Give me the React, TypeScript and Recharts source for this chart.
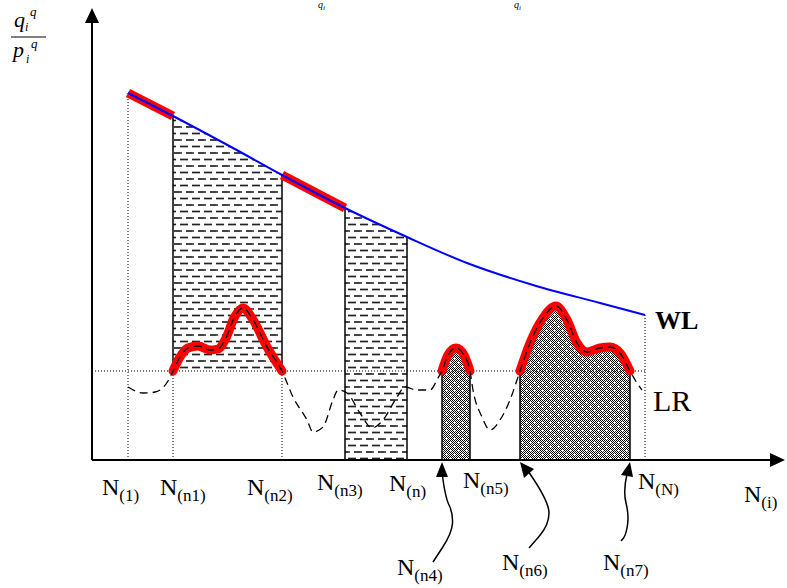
import React from 'react';
import { ComposedChart, XAxis, YAxis, Line, Area, ReferenceLine, ReferenceDot } from 'recharts';

// ---------- data (x = N(i) position, y = q/p value) ----------
const tickValues = [36, 81, 190, 253, 315, 378, 553];
const tickSubs = ['(1)', '(n1)', '(n2)', '(n3)', '(n)', '(n5)', '(N)'];
const arrowValues = [350, 428, 538];
const arrowSubs = ['(n4)', '(n6)', '(n7)'];

const wlX = [36, 81, 141, 190, 253, 315, 375, 441, 508, 553];
const wlY = [367, 344, 312, 285, 252, 223, 197, 175, 157, 145];
const lrLevel = 89;

const curveX = [36, 51, 63, 76, 81, 88, 96, 106, 118, 126, 134, 142, 151, 160, 175, 190, 201, 215, 221, 231, 241, 246, 255, 268, 280, 291, 305, 313, 325, 338, 346, 350, 356, 364, 372, 378, 381, 390, 398, 408, 418, 428, 438, 451, 464, 475, 485, 495, 508, 518, 528, 538, 545, 550];
const curveY = [73, 67, 68, 79, 89, 103, 112, 114, 110, 111, 122, 142, 152, 142, 113, 89, 63, 40, 28, 33, 60, 70, 67, 47, 32, 40, 63, 73, 70, 70, 82, 89, 105, 112, 105, 89, 70, 43, 30, 40, 60, 89, 117, 142, 154, 140, 117, 108, 112, 113, 107, 89, 77, 70];

const redWlRanges = [[36, 81], [190, 253]];
const redCurveRanges = [[81, 190], [350, 378], [428, 538]];
const hatchLrRange = [81, 190];
const hatchFullRange = [253, 315];
const greyRanges = [[350, 378], [428, 538]];
const topNoteX = [226, 422];

// ---------- layout (styles only) ----------
const W = 787;
const H = 588;
const tickDx = [-26, -13, -35, -28, -18, -7, -7];
const tickBase = [35, 35, 35, 30, 31, 28, 29];
const arrowDx = [-45, -18, -27];
const arrowBase = [115, 110, 110];
const serif = "'Liberation Serif', 'Times New Roman', serif";

const wlData = wlX.map((x, i) => ({ x, y: wlY[i] }));
const wlAt = (x: number) => wlY[wlX.indexOf(x)];
const curveAt = (x: number) => curveY[curveX.indexOf(x)];
const inRange = (x: number, r: number[]) => x >= r[0] && x <= r[1];
const curveData = curveX.map((x, i) => ({
  x,
  y: curveY[i],
  red: redCurveRanges.some((r) => inRange(x, r)) ? curveY[i] : null,
}));

const NLabel = ({ x, y, sub }: { x: number; y: number; sub: string }) => (
  <text x={x} y={y} fontFamily={serif} fill="#000">
    <tspan fontSize={24}>N</tspan>
    <tspan fontSize={17} dy={6}>{sub}</tspan>
  </text>
);

const NTick = (props: any) => {
  const { x, y, payload } = props;
  const i = tickValues.indexOf(payload.value);
  if (i < 0) return null;
  return <NLabel x={x + tickDx[i]} y={y + tickBase[i]} sub={tickSubs[i]} />;
};

const smooth = (pts: number[][]) => {
  let d = `M${pts[0][0]},${pts[0][1]}`;
  for (let i = 1; i < pts.length - 1; i++) {
    const mx = (pts[i][0] + pts[i + 1][0]) / 2;
    const my = (pts[i][1] + pts[i + 1][1]) / 2;
    d += ` Q${pts[i][0]},${pts[i][1]} ${mx},${my}`;
  }
  const l = pts[pts.length - 1];
  d += ` L${l[0]},${l[1]}`;
  return d;
};

// arrow shaft shapes relative to arrow tip
const arrowShafts = [
  [[0, 12], [3, 37], [11, 53], [10, 73], [-9, 102]],
  [[8, 11], [29, 41], [29, 65], [9, 88]],
  [[-3, 14], [-7, 31], [-1, 55], [-4, 75], [-9, 81]],
];
const arrowHeads = [
  [[0, 2], [-6, 17], [6, 17]],
  [[0, 2], [4, 18], [14, 9]],
  [[0, 2], [-9, 15], [3, 17]],
];

const makeArrowShape = (i: number) => (p: any) => {
  const { cx, cy } = p;
  const shaft = arrowShafts[i].map(([a, b]) => [cx + a, cy + b]);
  const head = arrowHeads[i].map(([a, b]) => `${cx + a},${cy + b}`).join(' ');
  return (
    <g>
      <path d={smooth(shaft)} fill="none" stroke="#000" strokeWidth={1.5} />
      <polygon points={head} fill="#000" />
      <NLabel x={cx + arrowDx[i]} y={cy + arrowBase[i]} sub={arrowSubs[i]} />
    </g>
  );
};

const YArrowShape = (p: any) => {
  const { cx, cy } = p;
  return (
    <g>
      <polygon points={`${cx},${cy - 2} ${cx - 7},${cy + 13} ${cx + 7},${cy + 13}`} fill="#000" />
      <g fontFamily={serif} fontStyle="italic" fill="#000">
        <text x={cx - 78} y={cy + 17} fontSize={22}>q</text>
        <text x={cx - 67} y={cy + 21} fontSize={12}>i</text>
        <text x={cx - 62} y={cy + 6} fontSize={13}>q</text>
        <line x1={cx - 81} x2={cx - 46} y1={cy + 27} y2={cy + 27} stroke="#000" strokeWidth={1} />
        <text x={cx - 79} y={cy + 47} fontSize={22}>p</text>
        <text x={cx - 66} y={cy + 53} fontSize={12}>i</text>
        <text x={cx - 61} y={cy + 38} fontSize={13}>q</text>
      </g>
    </g>
  );
};

const XArrowShape = (p: any) => {
  const { cx, cy } = p;
  return (
    <g>
      <polygon points={`${cx + 3},${cy} ${cx - 12},${cy - 7} ${cx - 12},${cy + 7}`} fill="#000" />
      <NLabel x={cx - 38} y={cy + 42} sub="(i)" />
    </g>
  );
};

const WlLabel = (p: any) => (
  <text x={p.cx + 10} y={p.cy + 14} fontFamily={serif} fontWeight="bold" fontSize={26} fill="#000">WL</text>
);
const LrLabel = (p: any) => (
  <text x={p.cx + 8} y={p.cy + 40} fontFamily={serif} fontSize={30} fill="#000">LR</text>
);
const TopQ = (p: any) => (
  <text x={p.cx} y={p.cy - 2} fontFamily={serif} fontStyle="italic" fontSize={10} fill="#000">
    q<tspan fontSize={7} dy={2}>i</tspan>
  </text>
);

export default function App() {
  const hatchA = wlData.filter((d) => inRange(d.x, hatchLrRange)).map((d) => ({ x: d.x, r: [lrLevel, d.y] }));
  const hatchB = wlData.filter((d) => inRange(d.x, hatchFullRange)).map((d) => ({ x: d.x, r: [0, d.y] }));
  return (
    <div style={{ position: 'absolute', left: 0, top: 0, width: W, height: H, background: '#fff' }}>
      <ComposedChart width={W} height={H} margin={{ top: 10, right: 5, left: 32, bottom: 98 }}>
        <defs>
          <pattern id="hatch" patternUnits="userSpaceOnUse" width="12" height="13">
            <line x1="0" x2="8" y1="3.5" y2="3.5" stroke="#222" strokeWidth="1.7" />
            <line x1="6" x2="12" y1="10" y2="10" stroke="#222" strokeWidth="1.7" />
            <line x1="0" x2="2" y1="10" y2="10" stroke="#222" strokeWidth="1.7" />
          </pattern>
          <pattern id="chk" patternUnits="userSpaceOnUse" width="2" height="2">
            <rect x="0" y="0" width="2" height="2" fill="#fff" />
            <rect x="0" y="0" width="1" height="1" fill="#000" />
            <rect x="1" y="1" width="1" height="1" fill="#000" />
          </pattern>
          <pattern id="grey" patternUnits="userSpaceOnUse" width="8" height="8">
            <rect x="0" y="0" width="8" height="8" fill="url(#chk)" />
            <rect x="2" y="2" width="1.5" height="1.5" fill="#fff" />
            <rect x="6" y="6" width="1.5" height="1.5" fill="#fff" />
          </pattern>
        </defs>
        <XAxis
          type="number"
          dataKey="x"
          domain={[0, 690]}
          ticks={tickValues}
          interval={0}
          tick={<NTick />}
          tickLine={false}
          tickSize={0}
          tickMargin={0}
          height={30}
          axisLine={{ stroke: '#000', strokeWidth: 2 }}
          allowDataOverflow
        />
        <YAxis
          type="number"
          domain={[0, 450]}
          width={60}
          tick={false}
          tickLine={false}
          axisLine={{ stroke: '#000', strokeWidth: 2 }}
          allowDataOverflow
        />
        <Area data={hatchA} dataKey="r" type="monotone" fill="url(#hatch)" fillOpacity={1} stroke="none" isAnimationActive={false} />
        <Area data={hatchB} dataKey="r" type="monotone" fill="url(#hatch)" fillOpacity={1} stroke="none" isAnimationActive={false} />
        {greyRanges.map((r, i) => (
          <Area
            key={'g' + i}
            data={curveData.filter((d) => inRange(d.x, r))}
            dataKey="y"
            type="monotone"
            fill="url(#grey)"
            fillOpacity={1}
            stroke="none"
            baseValue={0}
            isAnimationActive={false}
          />
        ))}
        {/* dotted guides */}
        <ReferenceLine segment={[{ x: 0, y: lrLevel }, { x: wlX[wlX.length - 1], y: lrLevel }]} stroke="#000" strokeDasharray="1 2" />
        <ReferenceLine segment={[{ x: wlX[0], y: 0 }, { x: wlX[0], y: wlY[0] }]} stroke="#000" strokeDasharray="1 2" />
        <ReferenceLine segment={[{ x: wlX[wlX.length - 1], y: 0 }, { x: wlX[wlX.length - 1], y: wlY[wlY.length - 1] }]} stroke="#000" strokeDasharray="1 2" />
        {hatchLrRange.map((x) => (
          <ReferenceLine key={'d' + x} segment={[{ x, y: 0 }, { x, y: lrLevel }]} stroke="#000" strokeDasharray="1 2" />
        ))}
        {/* solid edges */}
        {hatchLrRange.map((x) => (
          <ReferenceLine key={'s' + x} segment={[{ x, y: lrLevel }, { x, y: wlAt(x) }]} stroke="#000" strokeWidth={1.5} />
        ))}
        {hatchFullRange.map((x) => (
          <ReferenceLine key={'f' + x} segment={[{ x, y: 0 }, { x, y: wlAt(x) }]} stroke="#000" strokeWidth={1.5} />
        ))}
        {greyRanges.flat().map((x) => (
          <ReferenceLine key={'e' + x} segment={[{ x, y: 0 }, { x, y: curveAt(x) }]} stroke="#000" strokeWidth={1.5} />
        ))}
        {redWlRanges.map((r, i) => (
          <Line
            key={'rw' + i}
            data={wlData.filter((d) => inRange(d.x, r))}
            dataKey="y"
            type="linear"
            stroke="#ff0000"
            strokeWidth={9}
            dot={false}
            isAnimationActive={false}
          />
        ))}
        <Line data={wlData} dataKey="y" type="monotone" stroke="#0000ff" strokeWidth={2} dot={false} isAnimationActive={false} />
        <Line data={curveData} dataKey="red" type="monotone" stroke="#ff0000" strokeWidth={9} strokeLinecap="round" strokeLinejoin="round" dot={false} connectNulls={false} isAnimationActive={false} />
        <Line data={curveData} dataKey="y" type="monotone" stroke="#000" strokeWidth={1.3} strokeDasharray="8 5" dot={false} isAnimationActive={false} />
        {arrowValues.map((x, i) => (
          <ReferenceDot key={'a' + x} x={x} y={0} r={0} shape={makeArrowShape(i)} ifOverflow="visible" />
        ))}
        <ReferenceDot x={0} y={450} r={0} shape={YArrowShape} ifOverflow="visible" />
        <ReferenceDot x={690} y={0} r={0} shape={XArrowShape} ifOverflow="visible" />
        <ReferenceDot x={wlX[wlX.length - 1]} y={wlY[wlY.length - 1]} r={0} shape={WlLabel} ifOverflow="visible" />
        <ReferenceDot x={wlX[wlX.length - 1]} y={lrLevel} r={0} shape={LrLabel} ifOverflow="visible" />
        {topNoteX.map((x) => (
          <ReferenceDot key={'t' + x} x={x} y={450} r={0} shape={TopQ} ifOverflow="visible" />
        ))}
      </ComposedChart>
    </div>
  );
}
